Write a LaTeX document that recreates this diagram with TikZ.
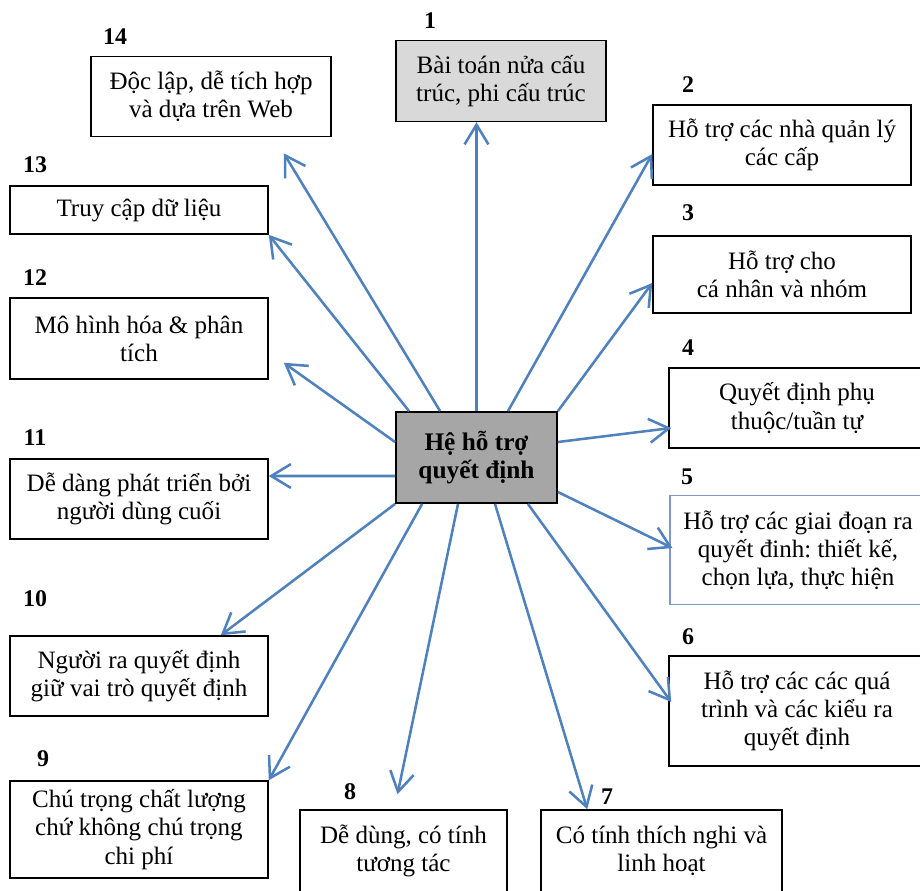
\documentclass[tikz,border=0pt]{standalone}
\usepackage{fontspec}
\setmainfont{Liberation Serif}
\usepackage{xcolor}
\usepackage{tikz}
\usetikzlibrary{calc,arrows.meta}
\definecolor{linkblue}{HTML}{4F81BD}
\definecolor{hubgray}{HTML}{A6A6A6}
\definecolor{topgray}{HTML}{D9D9D9}
\definecolor{frameblue}{HTML}{8096C4}
\def\unitpx{0.025cm}
\frenchspacing
\tikzset{
  card/.style={draw=black, line width=1.1pt, fill=white, align=center, inner sep=0pt,
    font=\fontsize{17.8}{20}\selectfont},
  hubbox/.style={card, fill=hubgray, line width=1.3pt, font=\fontsize{18}{20}\selectfont\bfseries},
  num/.style={font=\fontsize{17}{20}\selectfont\bfseries, inner sep=0pt},
  link/.style={draw=linkblue, line width=1.8pt,
    -{Straight Barb[length=14pt,width=17pt]}}
}

\begin{document}
\begin{tikzpicture}[x=\unitpx, y=-\unitpx]
  \useasboundingbox (0,0) rectangle (920,890);
  \clip (0,0) rectangle (920,890);
  \fill[white] (0,0) rectangle (920,890);

  % hub in the middle
  \node[hubbox, minimum width=161*\unitpx, minimum height=91*\unitpx] (hub) at (476.5,457.5) {Hệ hỗ trợ\\quyết định};

  % right column, numbered clockwise from the top
  \node[card, fill=topgray, minimum width=210*\unitpx, minimum height=81*\unitpx] (b1) at (501,81) {Bài toán nửa cấu\\trúc, phi cấu trúc};
  \node[card, minimum width=258*\unitpx, minimum height=80*\unitpx] (b2) at (782,145) {Hỗ trợ các nhà quản lý\\các cấp};
  \node[card, minimum width=258*\unitpx, minimum height=77*\unitpx] (b3) at (782,274.5) {Hỗ trợ cho\\cá nhân và nhóm};
  \node[card, minimum width=256*\unitpx, minimum height=80*\unitpx] (b4) at (797,408) {Quyết định phụ\\thuộc/tuần tự};
  \node[card, draw=frameblue, line width=0.8pt, minimum width=256*\unitpx, minimum height=109*\unitpx] (b5) at (798,550) {Hỗ trợ các giai đoạn ra\\quyết đinh: thiết kế,\\chọn lựa, thực hiện};
  \node[card, minimum width=256*\unitpx, minimum height=110*\unitpx] (b6) at (797,711) {Hỗ trợ các các quá\\trình và các kiểu ra\\quyết định};
  \node[card, minimum width=241*\unitpx, minimum height=82*\unitpx] (b7) at (661.5,851) {Có tính thích nghi và\\linh hoạt};
  \node[card, minimum width=207*\unitpx, minimum height=82*\unitpx] (b8) at (403.5,851) {Dễ dùng, có tính\\tương tác};

  % left column
  \node[card, minimum width=258*\unitpx, minimum height=97*\unitpx] (b9) at (139,829.5) {Chú trọng chất lượng\\chứ không chú trọng\\chi phí};
  \node[card, minimum width=258*\unitpx, minimum height=80*\unitpx] (b10) at (139,676) {Người ra quyết định\\giữ vai trò quyết định};
  \node[card, minimum width=258*\unitpx, minimum height=80*\unitpx] (b11) at (139,499) {Dễ dàng phát triển bởi\\người dùng cuối};
  \node[card, minimum width=258*\unitpx, minimum height=81*\unitpx] (b12) at (139,338.5) {Mô hình hóa \& phân\\tích};
  \node[card, minimum width=258*\unitpx, minimum height=48*\unitpx] (b13) at (139,210) {Truy cập dữ liệu};
  \node[card, minimum width=240*\unitpx, minimum height=80*\unitpx] (b14) at (211,96.5) {Độc lập, dễ tích hợp\\và dựa trên Web};

  % numbers
  \node[num] (n1) at (430,21) {1};
  \node[num] (n2) at (688,85) {2};
  \node[num] (n3) at (688,213) {3};
  \node[num] (n4) at (688,348) {4};
  \node[num] (n5) at (687,477) {5};
  \node[num] (n6) at (688,637) {6};
  \node[num] (n7) at (607,797) {7};
  \node[num] (n8) at (350,792) {8};
  \node[num] (n9) at (43,759) {9};
  \node[num] (n10) at (35,599) {10};
  \node[num] (n11) at (35,438) {11};
  \node[num] (n12) at (35,278) {12};
  \node[num] (n13) at (35,165) {13};
  \node[num] (n14) at (115,37) {14};

  % free ends that stop short of a box
  \coordinate (e8) at ($(b8.north)+(-6,-15)$);
  \coordinate (e12) at ($(b12.south east)+(15,-17)$);
  \coordinate (e14) at ($(b14.south east)+(-48,16)$);

  % connectors
  \draw[link] (hub.north) -- (hub.north |- b1.south);
  \draw[link] ($(hub.north)+(31.5,0)$) -- ($(b2.west)+(0,9)$);
  \draw[link] (hub.north east) -- ($(b3.west)+(0,8.5)$);
  \draw[link] ($(hub.east)+(0,-15.5)$) -- ($(b4.west)+(3,20)$);
  \draw[link] ($(hub.east)+(0,34.5)$) -- ($(b5.west)+(3,-2)$);
  \draw[link] ($(hub.south east)+(-30,0)$) -- ($(b6.west)+(3,-9)$);
  \draw[link] ($(hub.south)+(18.5,0)$) -- ($(b7.north west)+(47,0)$);
  \draw[link] ($(hub.south)+(-18.5,0)$) -- (e8);
  \draw[link] ($(hub.south west)+(27,0)$) -- (b9.north east);
  \draw[link] (hub.south west) -- ($(b10.north east)+(-48,0)$);
  \draw[link] ($(hub.west)+(0,18.5)$) -- ($(b11.east)+(0,-23)$);
  \draw[link] ($(hub.west)+(0,-15.5)$) -- (e12);
  \draw[link] ($(hub.north west)+(14,0)$) -- (b13.south east);
  \draw[link] ($(hub.north west)+(45,0)$) -- (e14);
\end{tikzpicture}
\end{document}
